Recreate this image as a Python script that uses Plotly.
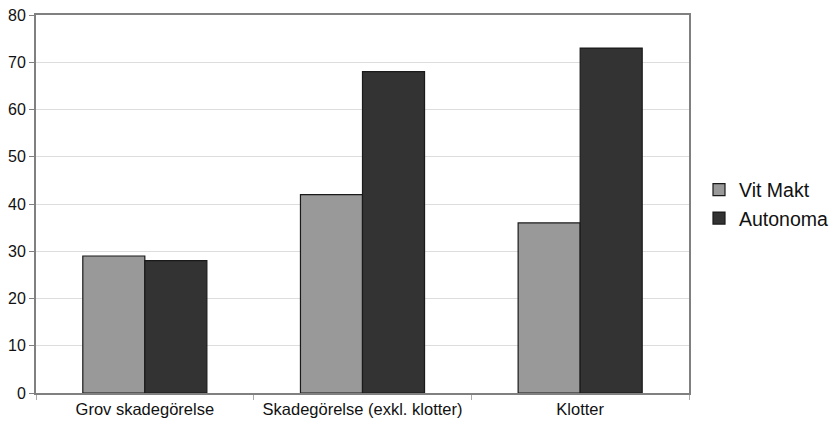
import plotly.graph_objects as go

categories = ["Grov skadegörelse", "Skadegörelse (exkl. klotter)", "Klotter"]
vit_makt = [29, 42, 36]
autonoma = [28, 68, 73]
y_ticks = [0, 10, 20, 30, 40, 50, 60, 70, 80]

fig = go.Figure()
fig.add_trace(go.Bar(name="Vit Makt", x=categories, y=vit_makt,
                     marker=dict(color="#999999", line=dict(color="#1a1a1a", width=1.2))))
fig.add_trace(go.Bar(name="Autonoma", x=categories, y=autonoma,
                     marker=dict(color="#333333", line=dict(color="#1a1a1a", width=1.2))))

fig.update_layout(
    width=829, height=423,
    margin=dict(l=36, r=140, t=15, b=30),
    barmode="group", bargap=0.43, bargroupgap=0,
    plot_bgcolor="white", paper_bgcolor="white",
    font=dict(family="Liberation Sans, Arial, sans-serif", size=16, color="#111111"),
    legend=dict(xref="container", x=699 / 829, y=0.5, xanchor="left", yanchor="middle",
                font=dict(size=19.5), tracegroupgap=0, itemwidth=30),
    showlegend=True,
)
fig.update_xaxes(showline=True, linecolor="#808080", linewidth=2, mirror=True,
                 ticks="outside", tickson="boundaries", ticklen=5, tickcolor="#aaaaaa",
                 tickfont=dict(size=16.5), tickangle=0, automargin=False)
fig.update_yaxes(range=[0, 80], tickvals=y_ticks, showline=True, linecolor="#808080",
                 linewidth=2, mirror=True, gridcolor="#dddddd", gridwidth=1,
                 ticks="outside", ticklen=5, tickcolor="#808080", zeroline=False,
                 tickfont=dict(size=16), automargin=False)

fig.write_html("out.html", config={"displayModeBar": False},
               post_script="document.body.style.margin='0';")
